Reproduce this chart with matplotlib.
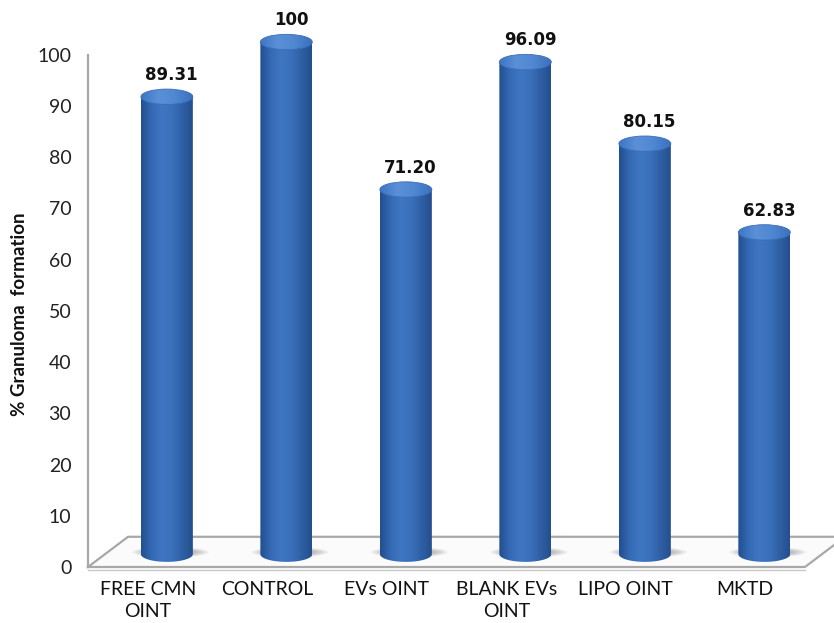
import numpy as np
import matplotlib
matplotlib.use("Agg")
import matplotlib.pyplot as plt
from matplotlib.patches import PathPatch, Ellipse
from matplotlib.path import Path
from matplotlib.colors import LinearSegmentedColormap

categories = ["FREE CMN\nOINT", "CONTROL", "EVs OINT", "BLANK EVs\nOINT", "LIPO OINT", "MKTD"]
values = [89.31, 100, 71.20, 96.09, 80.15, 62.83]
value_labels = ["89.31", "100", "71.20", "96.09", "80.15", "62.83"]
yticks = [0, 10, 20, 30, 40, 50, 60, 70, 80, 90, 100]

plt.rcParams['font.family'] = ['Lato', 'DejaVu Sans']

# 3d look: bars stand a bit behind the front edge of the floor
bar_shift = 0.66      # x offset of bar centre inside each category slot
bar_base = 2.5        # floor level under the bars, in value units
bar_w = 0.435
cap_h = 3.0           # height of the top ellipse in value units
depth_dx, depth_dy = 0.335, 5.9

body_cmap = LinearSegmentedColormap.from_list(
    "body", ["#234f8f", "#3469b4", "#3f76c2", "#3a70bb", "#2f60a6", "#244f8e"])
cap_cmap = LinearSegmentedColormap.from_list(
    "cap", ["#3e76c4", "#5b90d8", "#5087d1", "#3b71bd"])

fig = plt.figure(figsize=(8.34, 6.23), dpi=100)
ax = fig.add_axes([88 / 834, 56 / 623, 746 / 834, 567 / 623])
ax.set_xlim(0, 6.243)
ax.set_ylim(0, 110.7)

# floor
grey = "#a8a8a8"
fx = [0, 6.0, 6.0 + depth_dx, depth_dx, 0]
fy = [0, 0, depth_dy, depth_dy, 0]
ax.fill(fx, fy, color="#fbfbfb", zorder=0, clip_on=False)
ax.plot(fx, fy, color=grey, lw=1.6, zorder=1, clip_on=False)
ax.plot([0, 6.0], [-0.5, -0.5], color="#c8c8c8", lw=1.0, zorder=1, clip_on=False)

t = np.linspace(np.pi, 2 * np.pi, 40)
for i, v in enumerate(values):
    cx = i + bar_shift
    y0, y1 = bar_base, bar_base + v
    x0, x1 = cx - bar_w / 2, cx + bar_w / 2

    # soft shadow on the floor
    for k in range(6):
        ax.add_patch(Ellipse((cx + 0.03, y0 + 0.4), 0.64 - k * 0.05, 2.0 - k * 0.2,
                             color="#505050", alpha=0.08, lw=0, zorder=2))

    # cylinder body with horizontal shading
    arc_x = cx + bar_w / 2 * np.cos(t)
    arc_y = y0 + cap_h / 2 * np.sin(t)
    verts = [(x0, y1)] + list(zip(arc_x, arc_y)) + [(x1, y1), (x0, y1)]
    codes = [Path.MOVETO] + [Path.LINETO] * (len(verts) - 2) + [Path.CLOSEPOLY]
    body = PathPatch(Path(verts, codes), facecolor="none", edgecolor="none", zorder=3)
    ax.add_patch(body)
    grad = np.linspace(0, 1, 100).reshape(1, -1)
    im = ax.imshow(grad, cmap=body_cmap, aspect="auto", zorder=3,
                   extent=[x0, x1, y0 - cap_h, y1], interpolation="bicubic")
    im.set_clip_path(body)

    # top cap
    cap = Ellipse((cx, y1), bar_w, cap_h, facecolor="none", edgecolor="none", zorder=4)
    ax.add_patch(cap)
    im2 = ax.imshow(np.linspace(0, 1, 100).reshape(1, -1), cmap=cap_cmap, aspect="auto",
                    zorder=4, extent=[x0, x1, y1 - cap_h / 2, y1 + cap_h / 2],
                    interpolation="bicubic")
    im2.set_clip_path(cap)
    ax.add_patch(Ellipse((cx, y1), bar_w, cap_h, facecolor="none",
                         edgecolor="#3a6fb8", lw=0.6, zorder=5))

    ax.text(cx + 0.04, y1 + cap_h / 2 + 1.0, value_labels[i], ha="center", va="bottom",
            fontsize=12, fontweight="bold", family="DejaVu Sans", color="#111111")

for s in ["top", "right", "bottom"]:
    ax.spines[s].set_visible(False)
ax.spines["left"].set_color(grey)
ax.spines["left"].set_linewidth(1.6)
ax.spines["left"].set_bounds(0, 100)

ax.set_yticks(yticks)
ax.set_yticklabels([str(y) for y in yticks], fontsize=14, color="#222222")
ax.set_xticks([i + 0.5 for i in range(len(categories))])
ax.set_xticklabels(categories, fontsize=14, color="#111111", linespacing=1.35)
for lbl in ax.get_xticklabels():
    lbl.set_multialignment("center")
ax.tick_params(axis="y", length=0, pad=12)
ax.tick_params(axis="x", length=0, pad=10)

fig.text(20 / 834, 1 - 314 / 623, "% Granuloma  formation", rotation=90,
         ha="center", va="center", fontsize=13.5, fontweight="bold", color="#111111")

fig.savefig("out.png", dpi=100)
